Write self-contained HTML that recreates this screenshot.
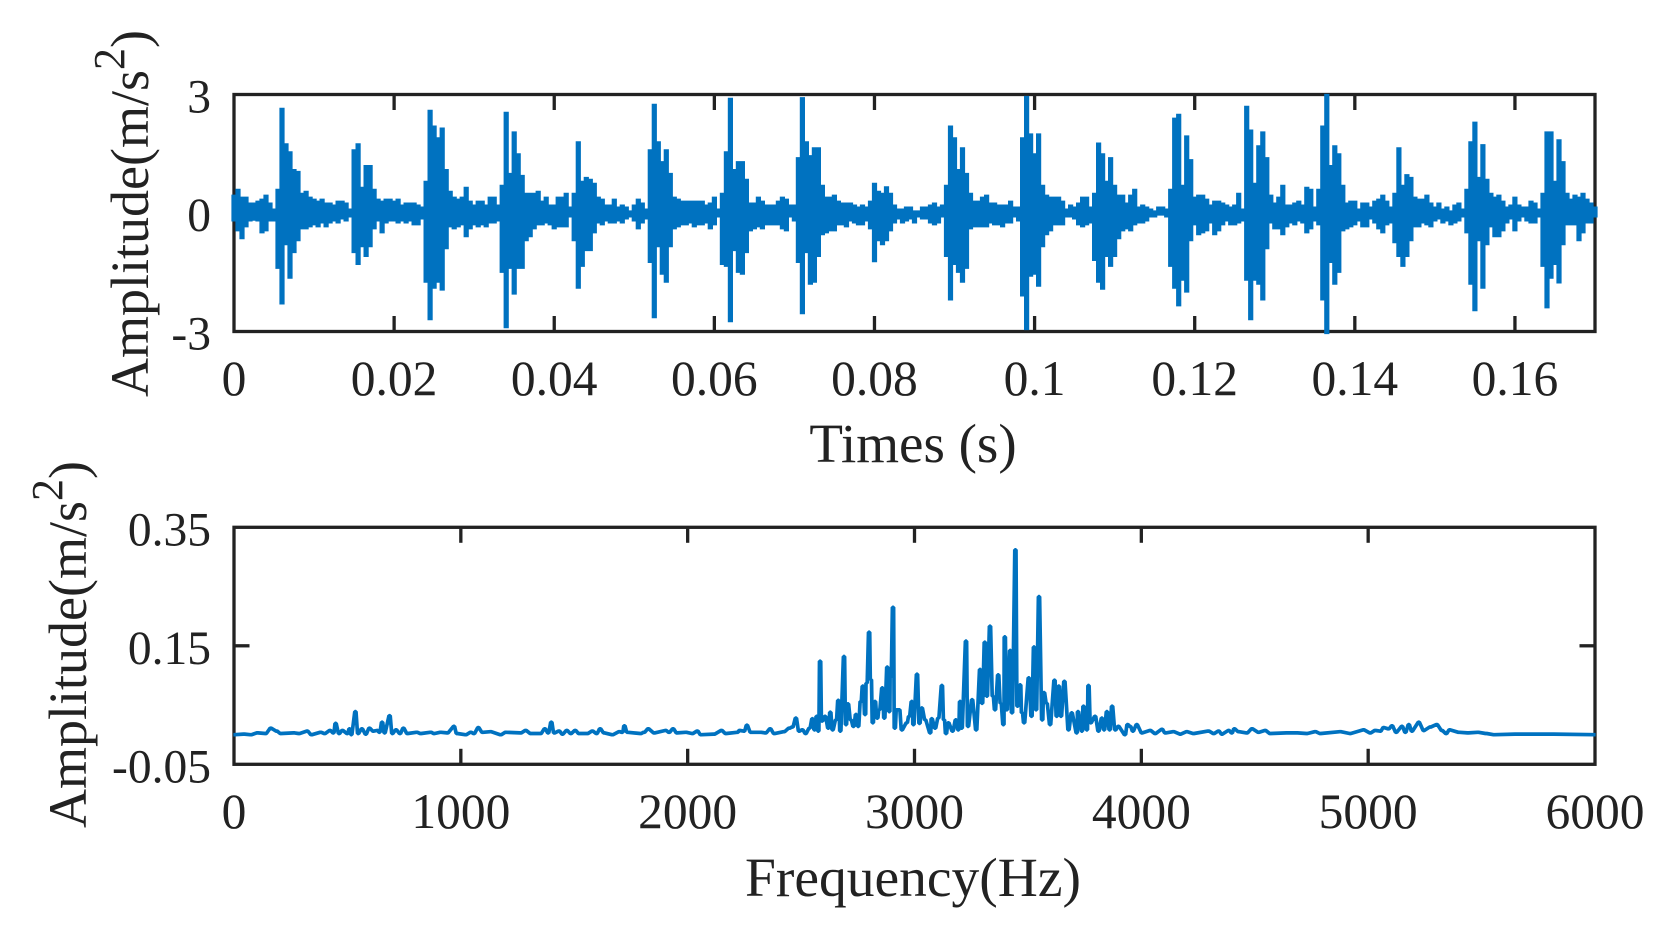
<!DOCTYPE html>
<html lang="en">
<head>
<meta charset="utf-8">
<title>Vibration signal: time waveform and frequency spectrum</title>
<style>
html,body{margin:0;padding:0;background:#fff;}
svg{display:block;}
text{font-family:"Liberation Serif",serif;fill:#222;}
</style>
</head>
<body>
<svg id="figure" width="1670" height="935" viewBox="0 0 1670 935" xmlns="http://www.w3.org/2000/svg">
  <rect x="0" y="0" width="1670" height="935" fill="#fff"/>
  <g id="time-panel"></g>
  <g id="freq-panel"></g>
  <text transform="translate(148,397) rotate(-90)" font-size="54">Amplitude(m/s<tspan font-size="44" dy="-24">2</tspan><tspan dy="24">)</tspan></text>
  <text transform="translate(86,828) rotate(-90)" font-size="54">Amplitude(m/s<tspan font-size="44" dy="-24">2</tspan><tspan dy="24">)</tspan></text>
  <text x="913" y="462" font-size="55" text-anchor="middle">Times (s)</text>
  <text x="913" y="896" font-size="55.5" text-anchor="middle">Frequency(Hz)</text>
</svg>
<script>
const signalTimeStep = 0.0005;
const signalUpper = [
.45,.6,.4,.4,.25,.25,.3,.35,.45,.25,.1,
.6,2.65,1.75,1.55,1.1,1.05,
.5,.55,.4,.35,.3,.35,.25,.25,.2,.3,.3,.25,.1,
1.6,1.75,.65,1.2,1.2,.6,
.35,.3,.35,.35,.3,.35,.2,.25,.25,.25,.2,.15,
.8,2.6,2.2,1.9,2.15,1.1,
.55,.4,.35,.4,.65,.3,.2,.3,.3,.2,.4,.4,.2,
.7,2.55,1.0,2.05,1.5,.95,
.5,.5,.5,.55,.3,.4,.2,.2,.4,.4,.5,.15,
.5,1.8,.8,.9,.85,.75,
.4,.35,.2,.2,.35,.15,.2,.15,.05,.2,.35,.25,.1,
1.6,2.75,1.8,1.3,1.6,1.0,
.4,.35,.3,.3,.3,.3,.3,.3,.2,.25,.4,.1,
.5,1.55,2.9,1.1,1.3,1.3,.85,
.25,.25,.4,.3,.2,.2,.2,.3,.4,.35,.2,.2,
1.4,2.92,1.8,1.45,1.65,1.65,
.7,.4,.4,.45,.3,.25,.25,.25,.2,.15,.2,.15,
.3,.75,.55,.5,.66,.5,
.2,.1,.1,.15,.15,.05,.05,.15,.15,.2,.25,.15,.2,
.7,2.2,1.9,1.1,1.65,1.0,
.5,.3,.3,.4,.45,.25,.25,.2,.2,.2,.3,.15,.15,
1.9,2.95,2.0,1.5,2.0,.7,
.45,.4,.4,.4,.3,.1,.2,.15,.25,.4,.4,.15,
.5,1.77,1.5,.8,1.4,.7,.45,
.45,.25,.45,.6,.15,.2,.15,.1,.05,.15,.15,.1,
.6,2.4,2.5,.7,1.95,1.35,
.4,.45,.45,.35,.2,.3,.3,.25,.2,.15,.2,.5,.1,
2.7,2.1,.75,1.7,2.05,1.4,
.45,.25,.4,.7,.2,.2,.25,.3,.2,.65,.6,.15,
.6,2.2,3,1.2,1.7,1.5,.7,
.25,.3,.3,.1,.25,.25,.15,.3,.35,.45,.3,.15,
.5,1.65,.7,.97,.9,
.4,.35,.35,.45,.25,.15,.25,.1,.15,.05,.2,.25,.1,
.6,1.8,2.3,.9,1.73,.85,
.5,.4,.45,.3,.15,.2,.4,.2,.15,.15,.3,.25,.1,
.5,2.05,2.05,.8,1.85,1.3,
.5,.35,.45,.4,.5,.35,.25,.15
];
const signalLower = [
-.2,-.45,-.65,-.35,-.2,-.18,-.2,-.5,-.45,-.2,-.2,
-1.4,-2.3,-.8,-1.65,-1,-.7,
-.4,-.4,-.35,-.3,-.35,-.25,-.35,-.25,-.2,-.25,-.15,-.2,-.1,
-1,-1.3,-.85,-1.1,-.85,-.4,
-.2,-.5,-.25,-.2,-.2,-.25,-.2,-.25,-.2,-.3,-.3,-.15,
-1.75,-2.7,-1.9,-1.75,-1.95,-.9,
-.35,-.4,-.35,-.3,-.6,-.4,-.3,-.35,-.3,-.35,-.25,-.25,-.2,
-1.5,-2.9,-1.4,-2.05,-1.4,-1.4,
-.7,-.6,-.4,-.3,-.3,-.25,-.3,-.4,-.35,-.35,-.35,-.1,
-.7,-1.9,-1.35,-.95,-.95,-.5,
-.25,-.3,-.2,-.25,-.25,-.2,-.25,-.15,-.1,-.2,-.4,-.25,-.15,
-1.25,-2.65,-.85,-1.55,-1.75,-.85,
-.4,-.35,-.3,-.3,-.25,-.35,-.3,-.3,-.25,-.4,-.3,-.1,
-1.3,-1.35,-2.75,-.95,-1.5,-1.55,-1,
-.45,-.4,-.35,-.4,-.3,-.3,-.3,-.3,-.4,-.45,-.1,-.2,
-1.25,-2.55,-1,-1.8,-1.75,-1.1,
-.55,-.5,-.45,-.45,-.3,-.3,-.35,-.2,-.25,-.3,-.3,-.2,
-.4,-1.23,-.7,-.8,-.7,-.45,
-.25,-.15,-.25,-.2,-.15,-.25,-.1,-.15,-.15,-.25,-.3,-.25,-.1,
-1.1,-2.2,-1.3,-1.5,-1.75,-1.4,
-.4,-.35,-.35,-.35,-.35,-.25,-.3,-.3,-.35,-.25,-.25,-.1,-.2,
-2.1,-2.95,-1.6,-1.55,-1.85,-.85,
-.55,-.45,-.3,-.3,-.3,-.1,-.1,-.15,-.3,-.35,-.3,-.25,
-1.2,-1.75,-1.93,-1.1,-1.35,-1.1,-.65,
-.45,-.4,-.45,-.3,-.25,-.25,-.2,-.1,-.1,-.05,-.05,-.1,
-1.35,-1.9,-2.35,-1.7,-2,-.7,
-.3,-.55,-.5,-.45,-.25,-.55,-.45,-.3,-.2,-.3,-.3,-.25,-.2,
-1.7,-2.7,-1.7,-1.8,-2.2,-.9,
-.25,-.4,-.4,-.55,-.35,-.25,-.3,-.2,-.25,-.5,-.4,-.2,
-.3,-2.2,-3.05,-1.25,-1.8,-1.5,-.45,
-.4,-.35,-.3,-.2,-.35,-.35,-.15,-.25,-.4,-.5,-.3,-.25,
-.75,-1.1,-1.35,-1.1,-.7,
-.35,-.35,-.25,-.3,-.35,-.2,-.15,-.25,-.2,-.3,-.25,-.2,-.1,
-.5,-1.8,-2.47,-.7,-1.9,-.8,
-.35,-.6,-.6,-.45,-.25,-.15,-.45,-.2,-.1,-.2,-.25,-.25,-.1,
-1.35,-2.4,-1.65,-1.3,-1.77,-.8,
-.3,-.3,-.3,-.7,-.5,-.25,-.25,-.1
];
const timeTicks = [0,0.02,0.04,0.06,0.08,0.1,0.12,0.14,0.16];
const timeTickLabels = ["0","0.02","0.04","0.06","0.08","0.1","0.12","0.14","0.16"];
const signalTicks = [-3,0,3];
const signalTickLabels = ["-3","0","3"];

const spectrumFreqs = [
0,44,74,103,140,162,188,206,265,287,323,341,382,400,423,438,448,463,478,500,509,517,535,547,564,581,597,614,632,641,653,664,686,698,714,732,747,764,806,823,867,882,911,941,970,982,1022,1044,1058,1077,1095,1132,1176,1198,1264,1286,1308,1352,1370,1385,1399,
1411,1433,1448,1467,1485,1504,1521,1558,1580,1599,1614,1631,1668,1698,1712,1721,1734,1793,1808,1826,1852,1903,1918,1936,1952,1992,2021,2043,2058,2117,2149,2168,2220,2228,2249,2261,2278,2322,2344,2364,2381,2425,2447,2462,2477,2491,2506,2520,
2537,2550,2559,2569,2576,2584,2592,2606,2620,2629,2639,2654,2664,2673,2689,2698,2707,2719,2731,2742,2752,2763,2772,2782,2789,2800,2808,2816,2826,2836,2845,2858,2867,2880,2889,2895,2905,2913,2922,2933,2944,2966,2976,2988,2995,3011,3022,3032,3047,3069,3076,3091,3105,3121,3130,3139,3149,3168,3182,3193,
3201,3208,3227,3236,3254,3272,3289,3298,3310,3319,3333,3345,3355,3369,3380,3392,3398,3407,3422,3430,3445,3454,3466,3474,3483,3504,3516,3527,3536,3549,3563,3571,3583,3598,3617,3627,3636,3646,3661,3679,3693,3715,3721,3738,3745,3760,3767,3777,3796,3811,3826,3836,3848,3860,3871,3885,3899,3928,3939,
3951,3963,3980,4002,4039,4061,4091,4105,4142,4172,4201,4230,4296,4319,4341,4355,4385,4399,4410,4429,4466,4488,4517,4546,4568,4642,4686,4730,4767,4789,4877,4921,4980,5009,5031,5054,5068,5090,5105,5123,5149,5164,5179,5193,5223,5245,5274,5303,5325,5344,5359,
5400,5440,5484,5520,5555,5650,5720,5815,6000
];
const spectrumAmps = [
0,.001,0,.003,.002,.011,.006,.002,.003,.002,.006,0,.004,.002,.007,.003,.019,.002,.007,.002,.01,0,.039,.002,.01,.001,.011,.006,.007,.004,.021,.003,.032,.002,.008,.002,.011,.002,.004,.002,.004,.002,.004,.003,.014,.002,0,.004,.002,.012,.004,.005,0,.004,.003,.007,.002,.002,.01,.003,.021,
.003,.006,.001,.007,.002,.007,.002,.002,.006,.002,.01,.003,0,.005,.004,.015,.004,.002,.004,.01,.003,.007,.004,.01,.003,.004,.002,.006,0,.001,.007,.002,.004,.007,.006,.016,.004,.004,.003,.01,.002,.005,.011,.013,.028,.006,.008,.002,
.011,.027,.008,.031,.006,.124,.023,.031,.011,.038,.008,.025,.058,.006,.132,.017,.052,.025,.014,.034,.014,.056,.082,.034,.087,.173,.093,.02,.056,.028,.042,.079,.028,.114,.039,.098,.215,.011,.042,.042,.008,.02,.031,.056,.017,.102,.019,.045,.025,.003,.027,.011,.028,.083,.025,.002,.02,.006,.025,.008,
.056,.011,.158,.014,.059,.008,.11,.053,.156,.065,.183,.065,.042,.101,.053,.017,.165,.042,.142,.037,.312,.048,.084,.037,.02,.096,.031,.148,.042,.233,.025,.071,.053,.017,.092,.031,.082,.031,.09,.008,.037,.003,.039,.006,.048,.008,.083,.02,.031,.006,.028,.008,.039,.008,.048,.008,.014,0,.017,
.014,.006,.017,.003,.007,.002,.009,.003,.005,.001,.005,.002,.006,.002,.006,.001,.007,.003,.01,.005,.003,.01,.004,.007,.002,.003,.003,.002,.005,.002,.005,.002,.008,.003,.007,.006,.012,.01,.015,.004,.014,.004,.017,.006,.021,.007,.013,.017,.007,.002,.008,
.004,.003,.004,.002,0,.001,.001,.001,0
];
const freqTicks = [0,1000,2000,3000,4000,5000,6000];
const freqTickLabels = ["0","1000","2000","3000","4000","5000","6000"];
const spectrumTicks = [-0.05,0.15,0.35];
const spectrumTickLabels = ["-0.05","0.15","0.35"];

const SVGNS = "http://www.w3.org/2000/svg";
const INK = "#222222";
const TRACE = "#0072c0";
const LEFT = 234, RIGHT = 1595, TICK = 15.5, AXIS_W = 3.3, LABEL_GAP = 23, X_TICK_FONT = 49.5, Y_TICK_FONT = 47.5;

function linear(d0, d1, r0, r1) {
  return v => r0 + (v - d0) * (r1 - r0) / (d1 - d0);
}
function make(parent, tag, attrs) {
  const el = document.createElementNS(SVGNS, tag);
  for (const k in attrs) el.setAttribute(k, attrs[k]);
  parent.appendChild(el);
  return el;
}

function drawFrame(panel, x, y, box, xTicks, xLabels, yTicks, yLabels, xBase, yShift) {
  const frame = make(panel, "rect", {x: LEFT, y: box.top, width: RIGHT - LEFT, height: box.bottom - box.top, fill: "none", stroke: INK, "stroke-width": AXIS_W});
  
  
  xTicks.forEach((t, i) => {
    const px = x(t);
    if (px > LEFT + 1 && px < RIGHT - 1) {
      const bottomTick = make(panel, "line", {x1: px, x2: px, y1: box.bottom, y2: box.bottom - TICK, stroke: INK, "stroke-width": AXIS_W});
      
      
      const topTick = make(panel, "line", {x1: px, x2: px, y1: box.top, y2: box.top + TICK, stroke: INK, "stroke-width": AXIS_W});
      
      
    }
    const lab = make(panel, "text", {x: px, y: xBase, "font-size": X_TICK_FONT, "text-anchor": "middle"});
    lab.textContent = xLabels[i];
    
    
  });
  yTicks.forEach((v, i) => {
    const py = y(v);
    if (py > box.top + 1 && py < box.bottom - 1) {
      const leftTick = make(panel, "line", {x1: LEFT, x2: LEFT + TICK, y1: py, y2: py, stroke: INK, "stroke-width": AXIS_W});
      
      
      const rightTick = make(panel, "line", {x1: RIGHT, x2: RIGHT - TICK, y1: py, y2: py, stroke: INK, "stroke-width": AXIS_W});
      
      
    }
    const lab = make(panel, "text", {x: LEFT - LABEL_GAP, y: py + yShift, "font-size": Y_TICK_FONT, "text-anchor": "end"});
    lab.textContent = yLabels[i];
    
    
  });
}

/* Time-domain panel: solid envelope between the sampled upper and lower values */
const timeBox = {top: 94.5, bottom: 331.5};
const timeX = linear(0, 0.17, LEFT, RIGHT);
const timeY = linear(-3, 3, timeBox.bottom, timeBox.top);
const timePanel = document.getElementById("time-panel");
drawFrame(timePanel, timeX, timeY, timeBox, timeTicks, timeTickLabels, signalTicks, signalTickLabels, 395, 18);
const halfColumn = (timeX(signalTimeStep) - timeX(0)) / 2;
let timePath = "";
signalUpper.forEach((u, i) => {
  const px = timeX(i * signalTimeStep);
  timePath += (i ? "L" : "M") + (px - halfColumn).toFixed(1) + " " + timeY(u).toFixed(1) + "L" + (px + halfColumn).toFixed(1) + " " + timeY(u).toFixed(1);
});
for (let i = signalLower.length - 1; i >= 0; i--) {
  const px = timeX(i * signalTimeStep);
  timePath += "L" + (px + halfColumn).toFixed(1) + " " + timeY(signalLower[i]).toFixed(1) + "L" + (px - halfColumn).toFixed(1) + " " + timeY(signalLower[i]).toFixed(1);
}
timePath += "Z";
const timeLine = make(timePanel, "path", {d: timePath, fill: TRACE, stroke: TRACE, "stroke-width": 1.2, "stroke-linejoin": "miter"});



/* Frequency-domain panel */
const freqBox = {top: 527.3, bottom: 764.3};
const freqX = linear(0, 6000, LEFT, RIGHT);
const freqY = linear(-0.05, 0.35, freqBox.bottom, freqBox.top);
const freqPanel = document.getElementById("freq-panel");
drawFrame(freqPanel, freqX, freqY, freqBox, freqTicks, freqTickLabels, spectrumTicks, spectrumTickLabels, 828, 18);
let freqPath = "";
spectrumFreqs.forEach((f, i) => {
  const px = freqX(f), py = freqY(spectrumAmps[i]).toFixed(1);
  freqPath += (i ? "L" : "M") + (px - 0.6).toFixed(1) + " " + py + "L" + (px + 0.6).toFixed(1) + " " + py;
});
const freqLine = make(freqPanel, "path", {d: freqPath, fill: "none", stroke: TRACE, "stroke-width": 3.7, "stroke-linejoin": "bevel"});


</script>
</body>
</html>
